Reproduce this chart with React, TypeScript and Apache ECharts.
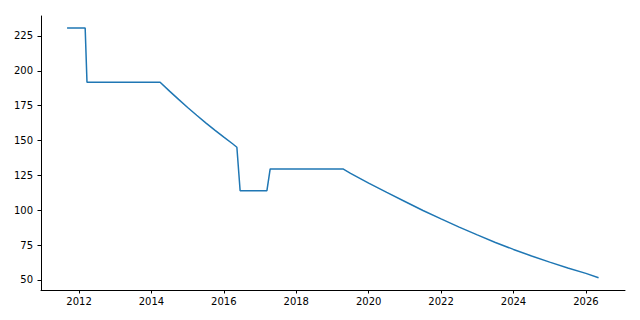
import React, { useEffect, useRef } from "react";
import * as echarts from "echarts";

const years: number[] = [
  2011.67, 2012.17, 2012.22, 2014.24, 2014.5, 2014.75, 2015.0, 2015.25, 2015.5, 2015.75,
  2016.0, 2016.25, 2016.36, 2016.45, 2017.19, 2017.28, 2019.29, 2019.5, 2020.0, 2020.5,
  2021.0, 2021.5, 2022.0, 2022.5, 2023.0, 2023.5, 2024.0, 2024.5, 2025.0, 2025.5,
  2026.0, 2026.35,
];
const values: number[] = [
  230.7, 230.7, 191.8, 191.8, 185.4, 179.5, 173.7, 168.1, 162.7, 157.5,
  152.4, 147.5, 145.2, 114.0, 114.0, 129.6, 129.6, 126.5, 119.5, 112.8,
  106.3, 99.8, 93.8, 87.9, 82.3, 76.9, 71.9, 67.2, 62.8, 58.6,
  54.7, 51.6,
];
const xTicks: number[] = [2012, 2014, 2016, 2018, 2020, 2022, 2024, 2026];
const yTicks: number[] = [50, 75, 100, 125, 150, 175, 200, 225];

export default function App() {
  const ref = useRef<HTMLDivElement>(null);
  useEffect(() => {
    if (!ref.current) return;
    const chart = echarts.init(ref.current, undefined, { renderer: "svg" });
    const font = "DejaVu Sans";
    chart.setOption({
      animation: false,
      grid: { left: 41, right: 15, top: 16, bottom: 30, containLabel: false },
      xAxis: {
        type: "value",
        min: 2010.95,
        max: 2027.08,
        splitLine: { show: false },
        axisLine: { show: true, lineStyle: { color: "#000", width: 1 } },
        axisTick: { show: true, length: 3.5, lineStyle: { color: "#000" }, customValues: xTicks },
        axisLabel: {
          customValues: xTicks,
          margin: 6,
          fontFamily: font,
          fontSize: 10,
          color: "#000",
          formatter: (v: number) => String(Math.round(v)),
        },
      },
      yAxis: {
        type: "value",
        min: 42.8,
        max: 239.3,
        splitLine: { show: false },
        axisLine: { show: true, lineStyle: { color: "#000", width: 1 } },
        axisTick: { show: true, length: 3.5, lineStyle: { color: "#000" }, customValues: yTicks },
        axisLabel: {
          customValues: yTicks,
          margin: 8,
          fontFamily: font,
          fontSize: 10,
          color: "#000",
          formatter: (v: number) => String(Math.round(v)),
        },
      },
      series: [
        {
          type: "line",
          data: years.map((y, i) => [y, values[i]]),
          showSymbol: false,
          lineStyle: { color: "#1f77b4", width: 1.5 },
          itemStyle: { color: "#1f77b4" },
        },
      ],
    });
    return () => chart.dispose();
  }, []);
  return (
    <div
      ref={ref}
      style={{ position: "fixed", top: 0, left: 0, width: 640, height: 320, background: "#fff" }}
    />
  );
}
